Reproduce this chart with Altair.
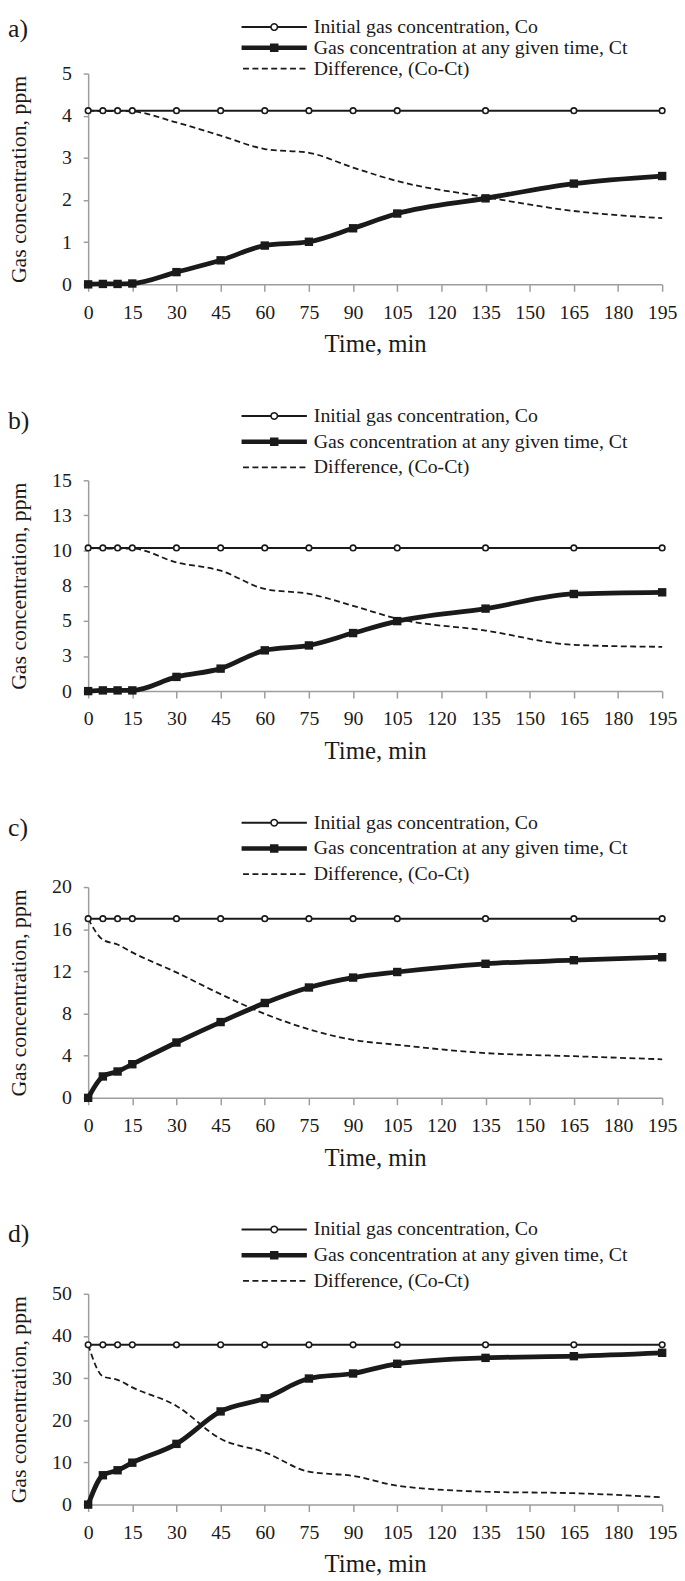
import math
import altair as alt
import pandas as pd

FONT = "Liberation Serif"
INK = "#1a1a1a"
GREY = "#9d9d9d"

# ---------------- data ----------------
times = [0, 5, 10, 15, 30, 45, 60, 75, 90, 105, 135, 165, 195]
x_ticks = [0, 15, 30, 45, 60, 75, 90, 105, 120, 135, 150, 165, 180, 195]

CO = "Initial gas concentration, Co"
CT = "Gas concentration at any given time, Ct"
DIFF = "Difference, (Co-Ct)"
series_names = [CO, CT, DIFF]
panel_labels = ["a)", "b)", "c)", "d)"]

co_a = [4.12, 4.12, 4.12, 4.12, 4.12, 4.12, 4.12, 4.12, 4.12, 4.12, 4.12, 4.12, 4.12]
ct_a = [0.00, 0.01, 0.01, 0.02, 0.29, 0.57, 0.92, 1.01, 1.33, 1.68, 2.04, 2.39, 2.57]
diff_a = [4.12, 4.11, 4.11, 4.10, 3.84, 3.53, 3.21, 3.12, 2.77, 2.45, 2.07, 1.74, 1.57]

co_b = [10.19, 10.19, 10.19, 10.19, 10.19, 10.19, 10.19, 10.19, 10.19, 10.19, 10.19, 10.19, 10.19]
ct_b = [0.00, 0.05, 0.05, 0.05, 1.01, 1.60, 2.90, 3.25, 4.13, 4.98, 5.87, 6.91, 7.03]
diff_b = [10.19, 10.14, 10.14, 10.14, 9.16, 8.57, 7.27, 6.92, 6.07, 5.15, 4.31, 3.29, 3.15]

co_c = [17.0, 17.0, 17.0, 17.0, 17.0, 17.0, 17.0, 17.0, 17.0, 17.0, 17.0, 17.0, 17.0]
ct_c = [0.00, 2.03, 2.50, 3.19, 5.25, 7.19, 9.00, 10.47, 11.41, 11.94, 12.72, 13.06, 13.34]
diff_c = [17.0, 15.0, 14.55, 13.8, 11.9, 9.84, 7.97, 6.5, 5.5, 5.03, 4.25, 3.95, 3.66]

co_d = [37.9, 37.9, 37.9, 37.9, 37.9, 37.9, 37.9, 37.9, 37.9, 37.9, 37.9, 37.9, 37.9]
ct_d = [0.0, 6.96, 8.14, 9.94, 14.4, 22.1, 25.2, 29.9, 31.1, 33.4, 34.8, 35.2, 36.0]
diff_d = [37.9, 30.4, 29.6, 27.8, 23.4, 15.6, 12.4, 7.8, 6.8, 4.5, 3.05, 2.7, 1.75]

y_max = [5, 15, 20, 50]
y_ticks_a = [0, 1, 2, 3, 4, 5]
y_ticks_b = [0, 2.5, 5, 7.5, 10, 12.5, 15]
y_ticks_c = [0, 4, 8, 12, 16, 20]
y_ticks_d = [0, 10, 20, 30, 40, 50]


# ---------------- legend glyphs (filled outlines, unit = sqrt(size)/2 px) ----------------
def _rect(x0, x1, h):
    return f"M{x0:.3f},{-h:.3f}L{x1:.3f},{-h:.3f}L{x1:.3f},{h:.3f}L{x0:.3f},{h:.3f}Z"


def _ring(ro, ri, n=20):
    outer = [(ro * math.cos(2 * math.pi * k / n), ro * math.sin(2 * math.pi * k / n)) for k in range(n)]
    inner = [(ri * math.cos(-2 * math.pi * k / n), ri * math.sin(-2 * math.pi * k / n)) for k in range(n)]
    s = "M" + "L".join(f"{x:.3f},{y:.3f}" for x, y in outer) + "Z"
    s += "M" + "L".join(f"{x:.3f},{y:.3f}" for x, y in inner) + "Z"
    return s


CO_PATH = _rect(-6, -0.6, 0.18) + _rect(0.6, 6, 0.18) + _ring(0.74, 0.45)
CT_PATH = _rect(-6, 6, 0.42) + _rect(-0.78, 0.78, 0.78)
DIFF_PATH = "".join(_rect(s, s + 1.09, 0.16) for s in [-5.73, -4.0, -2.27, -0.55, 1.18, 2.91, 4.64])

W, H = 580, 213


def make_panel(label, co, ct, diff, ymax, yticks, legend_y, row_pad, title_offset):
    df = pd.DataFrame({
        "time": times * 3,
        "value": co + ct + diff,
        "series": [CO] * len(times) + [CT] * len(times) + [DIFF] * len(times),
    })
    base = alt.Chart(df).encode(
        x=alt.X("time:Q",
                scale=alt.Scale(domain=[0, 195], nice=False, zero=False),
                axis=alt.Axis(values=x_ticks, title="Time, min", grid=False,
                              labelOverlap=False, labelFlush=False,
                              tickSize=7, labelPadding=11, titlePadding=10,
                              titleFontSize=25)),
        y=alt.Y("value:Q",
                scale=alt.Scale(domain=[0, ymax], nice=False),
                axis=alt.Axis(values=yticks, format=".0f",
                              title="Gas concentration, ppm", grid=False,
                              tickSize=5, labelPadding=12, labelOverlap=False,
                              titleFontSize=22, titleAngle=270,
                              titleAlign="center", titleBaseline="middle",
                              titleX=-70, titleY=H / 2)),
    )
    leg = alt.Legend(title=None, orient="none", legendX=178, legendY=legend_y,
                     labelFont=FONT, labelFontSize=20, labelColor=INK,
                     labelOffset=30, labelLimit=600, rowPadding=row_pad,
                     padding=0, symbolSize=121, symbolStrokeWidth=0)

    co_line = base.transform_filter(alt.datum.series == CO).mark_line(
        color=INK, strokeWidth=2, interpolate="monotone")
    diff_line = base.transform_filter(alt.datum.series == DIFF).mark_line(
        color=INK, strokeWidth=1.8, strokeDash=[6, 3.5], interpolate="monotone")
    ct_line = base.transform_filter(alt.datum.series == CT).mark_line(
        color=INK, strokeWidth=4.8, interpolate="monotone")
    co_pts = base.transform_filter(alt.datum.series == CO).mark_point(
        shape="circle", size=32, filled=True, fill="white", stroke=INK,
        strokeWidth=1.6, opacity=1)
    ct_pts = base.transform_filter(alt.datum.series == CT).mark_point(
        shape="square", size=72, filled=True, color=INK, opacity=1)
    legend_layer = base.transform_filter("false").mark_point(
        filled=True, color=INK, strokeWidth=0, opacity=1, size=121).encode(
        shape=alt.Shape("series:N",
                        scale=alt.Scale(domain=series_names,
                                        range=[CO_PATH, CT_PATH, DIFF_PATH]),
                        legend=leg),
    )
    return alt.layer(co_line, diff_line, ct_line, co_pts, ct_pts, legend_layer).properties(
        width=W, height=H,
        title=alt.TitleParams(label, anchor="start", frame="bounds", font=FONT,
                              fontSize=26, fontWeight="normal", color=INK,
                              offset=title_offset),
    )


pa = make_panel(panel_labels[0], co_a, ct_a, diff_a, y_max[0], y_ticks_a, -57, 1, -25)
pb = make_panel(panel_labels[1], co_b, ct_b, diff_b, y_max[1], y_ticks_b, -75, 6, -28)
pc = make_panel(panel_labels[2], co_c, ct_c, diff_c, y_max[2], y_ticks_c, -75, 6, -28)
pd_ = make_panel(panel_labels[3], co_d, ct_d, diff_d, y_max[3], y_ticks_d, -75, 6, -28)

chart = alt.vconcat(pa, pb, pc, pd_, spacing=50).resolve_scale(
    shape="independent"
).resolve_legend(
    shape="independent"
).properties(
    padding=0, background="white"
).configure_view(stroke=None).configure_axis(
    labelFont=FONT, labelFontSize=20, labelColor=INK,
    titleFont=FONT, titleFontWeight="normal", titleColor=INK,
    domainColor=GREY, tickColor=GREY, domainWidth=1.5, tickWidth=1.5,
)

chart.save("out.html", embed_options={"renderer": "svg", "actions": False})
